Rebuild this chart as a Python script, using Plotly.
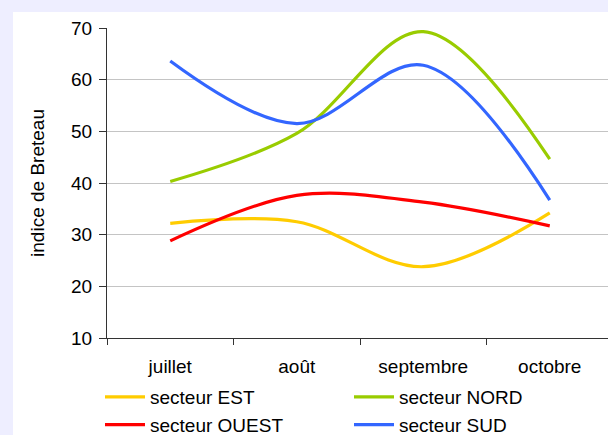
import plotly.graph_objects as go

months = ["juillet", "août", "septembre", "octobre"]
est = [32.2, 32.5, 23.8, 34.2]
nord = [40.3, 49.6, 69.3, 44.6]
ouest = [28.8, 37.6, 36.3, 31.7]
sud = [63.6, 51.5, 62.8, 36.7]
y_ticks = [10, 20, 30, 40, 50, 60, 70]

series = [
    ("secteur EST", est, "#FFCC00"),
    ("secteur NORD", nord, "#99CC00"),
    ("secteur OUEST", ouest, "#FF0000"),
    ("secteur SUD", sud, "#3366FF"),
]

FONT = "Liberation Sans, Arial, sans-serif"
FS = 19
W, H = 608, 435
L, R, T, B = 107, 0, 28, 97

fig = go.Figure()
for name, vals, col in series:
    fig.add_trace(go.Scatter(
        x=months, y=vals, name=name, mode="lines",
        line=dict(color=col, width=3.2, shape="spline", smoothing=1.0),
    ))

pw = W - L - R
ph = H - T - B
# white panel
fig.add_shape(type="rect", xref="paper", yref="paper",
              x0=(13 - L) / pw, x1=1.02, y0=-(B + 3) / ph, y1=1 + (T - 12) / ph,
              fillcolor="white", line=dict(width=0), layer="below")

step = 126.5
fig.update_layout(
    width=W, height=H,
    margin=dict(l=L, r=R, t=T, b=B, autoexpand=False),
    paper_bgcolor="#EEEEFF",
    plot_bgcolor="white",
    font=dict(family=FONT, size=FS, color="#000000"),
    showlegend=True,
    legend=dict(orientation="h", x=(100 - L) / pw, xanchor="left",
                y=-(378 - 338) / ph, yanchor="top",
                entrywidth=194, entrywidthmode="pixels",
                bgcolor="rgba(0,0,0,0)", traceorder="normal",
                font=dict(size=FS), itemwidth=40,
                borderwidth=0),
    xaxis=dict(
        type="category",
        range=[-0.5, -0.5 + pw / step],
        tickson="boundaries",
        ticks="outside", ticklen=6, tickcolor="#333333",
        showline=True, linecolor="#333333", linewidth=1.3,
        showgrid=False, zeroline=False,
        tickfont=dict(size=FS),
        ticklabelstandoff=11,
        automargin=False,
        fixedrange=True,
    ),
    yaxis=dict(
        range=[10, 70],
        tickvals=y_ticks,
        ticks="outside", ticklen=7, tickcolor="#333333",
        showline=True, linecolor="#333333", linewidth=1.3,
        showgrid=True, gridcolor="#C4C4C4", gridwidth=1,
        zeroline=False,
        tickfont=dict(size=FS),
        ticklabelstandoff=3,
        title=dict(text="indice de Breteau", font=dict(size=FS), standoff=21),
        automargin=False,
        fixedrange=True,
    ),
)

fig.write_html(
    "out.html",
    config={"displayModeBar": False},
    post_script="document.body.style.margin='0';document.body.style.background='#EEEEFF';",
)
